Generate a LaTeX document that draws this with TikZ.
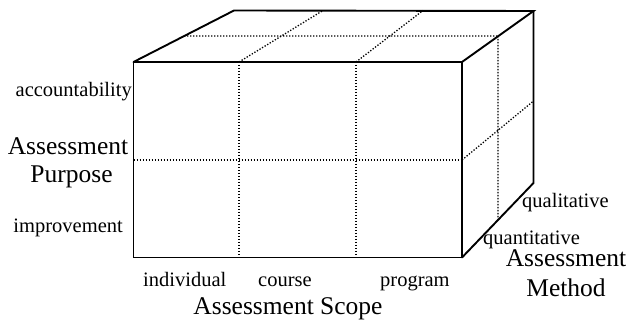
\documentclass[tikz,border=0pt]{standalone}
\usepackage{fontspec}
\setmainfont{Liberation Serif}
\begin{document}
\begin{tikzpicture}[x=1pt,y=-1pt,
  edge/.style={line width=1.9pt, line join=miter, line cap=round},
  grid/.style={line width=1.3pt, dash pattern=on 1.3pt off 1.7pt},
  small/.style={inner sep=0pt, font=\fontsize{20.5}{24}\selectfont},
  big/.style={inner sep=0pt, font=\fontsize{25.5}{28}\selectfont}]
\useasboundingbox (0,0) rectangle (629,320);

% corners of the box
\coordinate (ftl) at (133.5,62);
\coordinate (ftr) at (462,62);
\coordinate (fbl) at (133.5,257.5);
\coordinate (fbr) at (462,257.5);
\coordinate (btl) at (234,10.5);
\coordinate (btr) at (533.5,11);
\coordinate (bbr) at (533.5,183);

% cell divisions
\coordinate (f1t) at (239,62);   \coordinate (f1b) at (239,257.5);
\coordinate (f2t) at (356,62);   \coordinate (f2b) at (356,257.5);
\coordinate (fml) at (133.5,160); \coordinate (fmr) at (462,160);
\coordinate (t1b) at (323,10.5); \coordinate (t2b) at (423,10.5);
\coordinate (tml) at (184,36);   \coordinate (tmr) at (498,36);
\coordinate (rmb) at (498,220);
\coordinate (rdb) at (533.5,101);

\draw[grid] (f1t) -- (f1b) (f2t) -- (f2b) (fml) -- (fmr);
\draw[grid] (f1t) -- (t1b) (f2t) -- (t2b) (tml) -- (tmr);
\draw[grid] (tmr) -- (rmb) (fmr) -- (rdb);

% outline
\draw[edge] (ftl) rectangle (fbr);
\draw[edge] (ftl) -- (btl) -- (btr) -- (ftr);
\draw[edge] (btr) -- (bbr) -- (fbr);

% labels
\node[small, anchor=base east] (acc) at (132,97) {accountability};
\node[small, anchor=base east] (imp) at (123,233) {improvement};
\node[big, anchor=base] (pa) at (68,155) {Assessment};
\node[big, anchor=base] (pb) at (71.5,183) {Purpose};

\node[small, anchor=base west] (ind) at (143,287) {individual};
\node[small, anchor=base west] (cou) at (258,287) {course};
\node[small, anchor=base west] (pro) at (380,287) {program};
\node[big, anchor=base] (sc) at (288,314) {Assessment Scope};

\node[small, anchor=base west] (qual) at (522,208) {qualitative};
\node[small, anchor=base west] (quan) at (483,245) {quantitative};
\node[big, anchor=base] (ma) at (566,267) {Assessment};
\node[big, anchor=base] (mb) at (566,297) {Method};
\end{tikzpicture}
\end{document}
